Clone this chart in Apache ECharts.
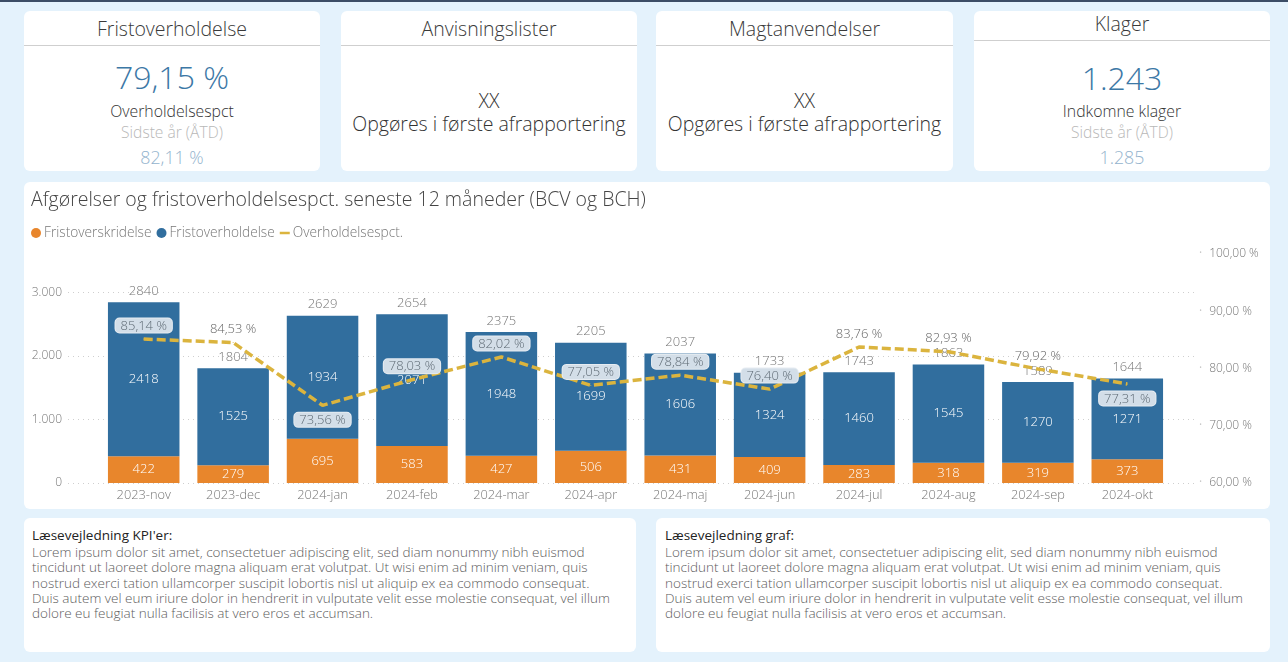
<!DOCTYPE html>
<html><head><meta charset="utf-8">
<script src="https://cdn.jsdelivr.net/npm/echarts@6/dist/echarts.min.js"></script>
<style>
html,body{margin:0;padding:0;}
body{width:1288px;height:662px;background:#e4f2fc;position:relative;overflow:hidden;font-family:"Open Sans",sans-serif;}
.topbar{position:absolute;left:0;top:0;width:1288px;height:2px;background:#3c4d66;}
.card{position:absolute;background:#fff;border-radius:6px;top:11px;height:160px;}
.t{position:absolute;left:0;right:0;text-align:center;white-space:nowrap;}
.title{font-size:19.5px;line-height:24px;color:#3a3a3a;font-weight:300;}
.sep{position:absolute;left:0;right:0;height:1px;background:#cfcfcf;}
.val{font-size:32px;line-height:40px;color:#3c78a6;font-weight:300;}
.lab{font-size:15.8px;line-height:20px;color:#333;font-weight:300;}
.sub{font-size:15.6px;line-height:20px;color:#b8b8b8;font-weight:300;}
.prev{font-size:17.8px;line-height:22px;color:#94b3cd;font-weight:300;}
.mid{font-size:19.5px;line-height:24px;color:#333;font-weight:300;}
.panel{position:absolute;background:#fff;border-radius:6px;}
.txt{position:absolute;top:518px;height:134px;}
.txt .h{position:absolute;top:9px;font-size:13.5px;line-height:16px;color:#222;white-space:nowrap;}
.txt .b{position:absolute;top:27px;font-size:13.5px;line-height:15.3px;color:#5c5c5c;white-space:nowrap;font-weight:300;}
</style>
</head><body>
<div class="topbar"></div>

<div class="card" style="left:24px;width:296px;">
  <div class="t title" style="top:6px;">Fristoverholdelse</div>
  <div class="sep" style="top:34px;"></div>
  <div class="t val" style="top:46px;">79,15 %</div>
  <div class="t lab" style="top:90px;">Overholdelsespct</div>
  <div class="t sub" style="top:111px;">Sidste år (ÅTD)</div>
  <div class="t prev" style="top:135px;">82,11 %</div>
</div>
<div class="card" style="left:341px;width:296px;">
  <div class="t title" style="top:6px;">Anvisningslister</div>
  <div class="sep" style="top:34px;"></div>
  <div class="t mid" style="top:78px;">XX</div>
  <div class="t mid" style="top:101px;">Opgøres i første afrapportering</div>
</div>
<div class="card" style="left:656px;width:297px;">
  <div class="t title" style="top:6px;">Magtanvendelser</div>
  <div class="sep" style="top:34px;"></div>
  <div class="t mid" style="top:78px;">XX</div>
  <div class="t mid" style="top:101px;">Opgøres i første afrapportering</div>
</div>
<div class="card" style="left:974px;width:296px;">
  <div class="t title" style="top:1px;">Klager</div>
  <div class="sep" style="top:29px;"></div>
  <div class="t val" style="top:47px;">1.243</div>
  <div class="t lab" style="top:90px;">Indkomne klager</div>
  <div class="t sub" style="top:111px;">Sidste år (ÅTD)</div>
  <div class="t prev" style="top:135px;">1.285</div>
</div>

<div class="panel" id="chart" style="left:24px;top:182px;width:1246px;height:327px;"></div>

<div class="panel txt" style="left:24px;width:612px;">
  <div class="h" style="left:8px;">Læsevejledning KPI'er:</div>
  <div class="b" style="left:8px;">Lorem ipsum dolor sit amet, consectetuer adipiscing elit, sed diam nonummy nibh euismod<br>tincidunt ut laoreet dolore magna aliquam erat volutpat. Ut wisi enim ad minim veniam, quis<br>nostrud exerci tation ullamcorper suscipit lobortis nisl ut aliquip ex ea commodo consequat.<br>Duis autem vel eum iriure dolor in hendrerit in vulputate velit esse molestie consequat, vel illum<br>dolore eu feugiat nulla facilisis at vero eros et accumsan.</div>
</div>
<div class="panel txt" style="left:656px;width:614px;">
  <div class="h" style="left:9px;">Læsevejledning graf:</div>
  <div class="b" style="left:9px;">Lorem ipsum dolor sit amet, consectetuer adipiscing elit, sed diam nonummy nibh euismod<br>tincidunt ut laoreet dolore magna aliquam erat volutpat. Ut wisi enim ad minim veniam, quis<br>nostrud exerci tation ullamcorper suscipit lobortis nisl ut aliquip ex ea commodo consequat.<br>Duis autem vel eum iriure dolor in hendrerit in vulputate velit esse molestie consequat, vel illum<br>dolore eu feugiat nulla facilisis at vero eros et accumsan.</div>
</div>

<script>
// ---- data ----
const months = ['2023-nov','2023-dec','2024-jan','2024-feb','2024-mar','2024-apr','2024-maj','2024-jun','2024-jul','2024-aug','2024-sep','2024-okt'];
const fristoverskridelse = [422, 279, 695, 583, 427, 506, 431, 409, 283, 318, 319, 373];
const fristoverholdelse = [2418, 1525, 1934, 2071, 1948, 1699, 1606, 1324, 1460, 1545, 1270, 1271];
const totals = [2840, 1804, 2629, 2654, 2375, 2205, 2037, 1733, 1743, 1863, 1589, 1644];
const overholdelsespct = [85.14, 84.53, 73.56, 78.03, 82.02, 77.05, 78.84, 76.40, 83.76, 82.93, 79.92, 77.31];
const leftAxis = {min: 0, max: 3600, interval: 1000};
const rightAxis = {min: 60, max: 100, interval: 10};
// label styling choices
const pctBelow = [2, 11];
const pctBoxed = [0, 2, 3, 4, 5, 6, 7, 11];

const FONT = '"Open Sans", sans-serif';
const fmtPct = v => v.toFixed(2).replace('.', ',') + ' %';
const fmtThou = v => String(v).replace(/\B(?=(\d{3})+(?!\d))/g, '.');

const boxStyle = {backgroundColor: '#d3dee8', borderColor: '#e6ecf2', borderWidth: 1, borderRadius: 4, padding: [1, 5, 0, 5], color: '#5f6b75'};
const pctData = overholdelsespct.map((v, i) => {
  const below = pctBelow.indexOf(i) >= 0;
  const boxed = pctBoxed.indexOf(i) >= 0;
  const lab = {position: below ? 'bottom' : 'top', distance: below ? 7 : 6};
  if (boxed) Object.assign(lab, boxStyle);
  return {value: v, label: lab};
});

const chart = echarts.init(document.getElementById('chart'), null, {renderer: 'canvas'});
chart.setOption({
  animation: false,
  textStyle: {fontFamily: FONT},
  title: {
    text: 'Afgørelser og fristoverholdelsespct. seneste 12 måneder (BCV og BCH)',
    left: 7, top: 5, padding: 0,
    textStyle: {fontFamily: FONT, fontSize: 19.5, fontWeight: 300, color: '#444', lineHeight: 26}
  },
  legend: {
    left: 7, top: 44, padding: 0, itemWidth: 10, itemHeight: 10, itemGap: 5,
    textStyle: {fontFamily: FONT, fontSize: 13.7, fontWeight: 300, color: '#777', padding: [0, 0, 0, -2]},
    data: [
      {name: 'Fristoverskridelse', icon: 'circle'},
      {name: 'Fristoverholdelse', icon: 'circle'},
      {name: 'Overholdelsespct.', icon: 'path://M0,0H12V3H0Z'}
    ]
  },
  grid: [
    {left: 44, right: 73, top: 72, bottom: 26},
    {left: 75, right: 98, top: 72, bottom: 26}
  ],
  xAxis: [
    {type: 'category', gridIndex: 0, data: months, show: false},
    {type: 'category', gridIndex: 1, data: months,
      axisLine: {show: false}, axisTick: {show: false},
      axisLabel: {color: '#777', fontSize: 12.8, fontWeight: 300, margin: 6, fontFamily: FONT}}
  ],
  yAxis: [
    {type: 'value', gridIndex: 0, min: leftAxis.min, max: leftAxis.max, interval: leftAxis.interval,
      axisLine: {show: false}, axisTick: {show: false},
      splitLine: {show: true, showMaxLine: false, lineStyle: {color: '#cfcfcf', type: [1, 4], width: 1}},
      axisLabel: {color: '#777', fontSize: 12, fontWeight: 300, margin: 6, showMaxLabel: false, fontFamily: FONT,
        formatter: v => (v % leftAxis.interval === 0 ? fmtThou(v) : '')}},
    {type: 'value', gridIndex: 1, min: leftAxis.min, max: leftAxis.max, show: false, splitLine: {show: false}},
    {type: 'value', gridIndex: 1, position: 'right', min: rightAxis.min, max: rightAxis.max, interval: rightAxis.interval,
      axisLine: {show: false}, axisTick: {show: false}, splitLine: {show: false},
      axisLabel: {margin: 27, fontFamily: FONT,
        formatter: v => '{d|·}{v|' + fmtPct(v) + '}',
        rich: {d: {color: '#c8c8c8', fontSize: 12, padding: [0, 7, 0, 0]}, v: {color: '#777', fontSize: 12, fontWeight: 300, fontFamily: FONT}}}}
  ],
  series: [
    {name: 'Fristoverskridelse', type: 'bar', stack: 'a', xAxisIndex: 1, yAxisIndex: 1,
      data: fristoverskridelse, barCategoryGap: '20%', itemStyle: {color: '#e8862c'},
      label: {show: true, position: 'inside', color: '#fff', fontSize: 13, fontWeight: 300, fontFamily: FONT}},
    {name: 'Fristoverholdelse', type: 'bar', stack: 'a', xAxisIndex: 1, yAxisIndex: 1,
      data: fristoverholdelse, barCategoryGap: '20%', itemStyle: {color: '#316e9e'},
      label: {show: true, position: 'inside', color: '#fff', fontSize: 13, fontWeight: 300, fontFamily: FONT}},
    {name: 'Total', type: 'line', xAxisIndex: 1, yAxisIndex: 1, data: totals,
      symbol: 'circle', symbolSize: 1, itemStyle: {color: 'rgba(0,0,0,0)'}, lineStyle: {width: 0, opacity: 0},
      silent: true, z: 5,
      label: {show: true, position: 'top', distance: 4, color: '#777', fontSize: 13, fontWeight: 300, fontFamily: FONT}},
    {name: 'Overholdelsespct.', type: 'line', xAxisIndex: 1, yAxisIndex: 2, data: pctData,
      symbol: 'circle', symbolSize: 1, itemStyle: {color: '#dbb43e'},
      lineStyle: {color: '#dbb43e', width: 3.5, type: [9, 4]}, z: 6,
      label: {show: true, color: '#666', fontSize: 13, fontWeight: 300, fontFamily: FONT, formatter: p => fmtPct(p.value)}}
  ]
});
</script>
</body></html>
